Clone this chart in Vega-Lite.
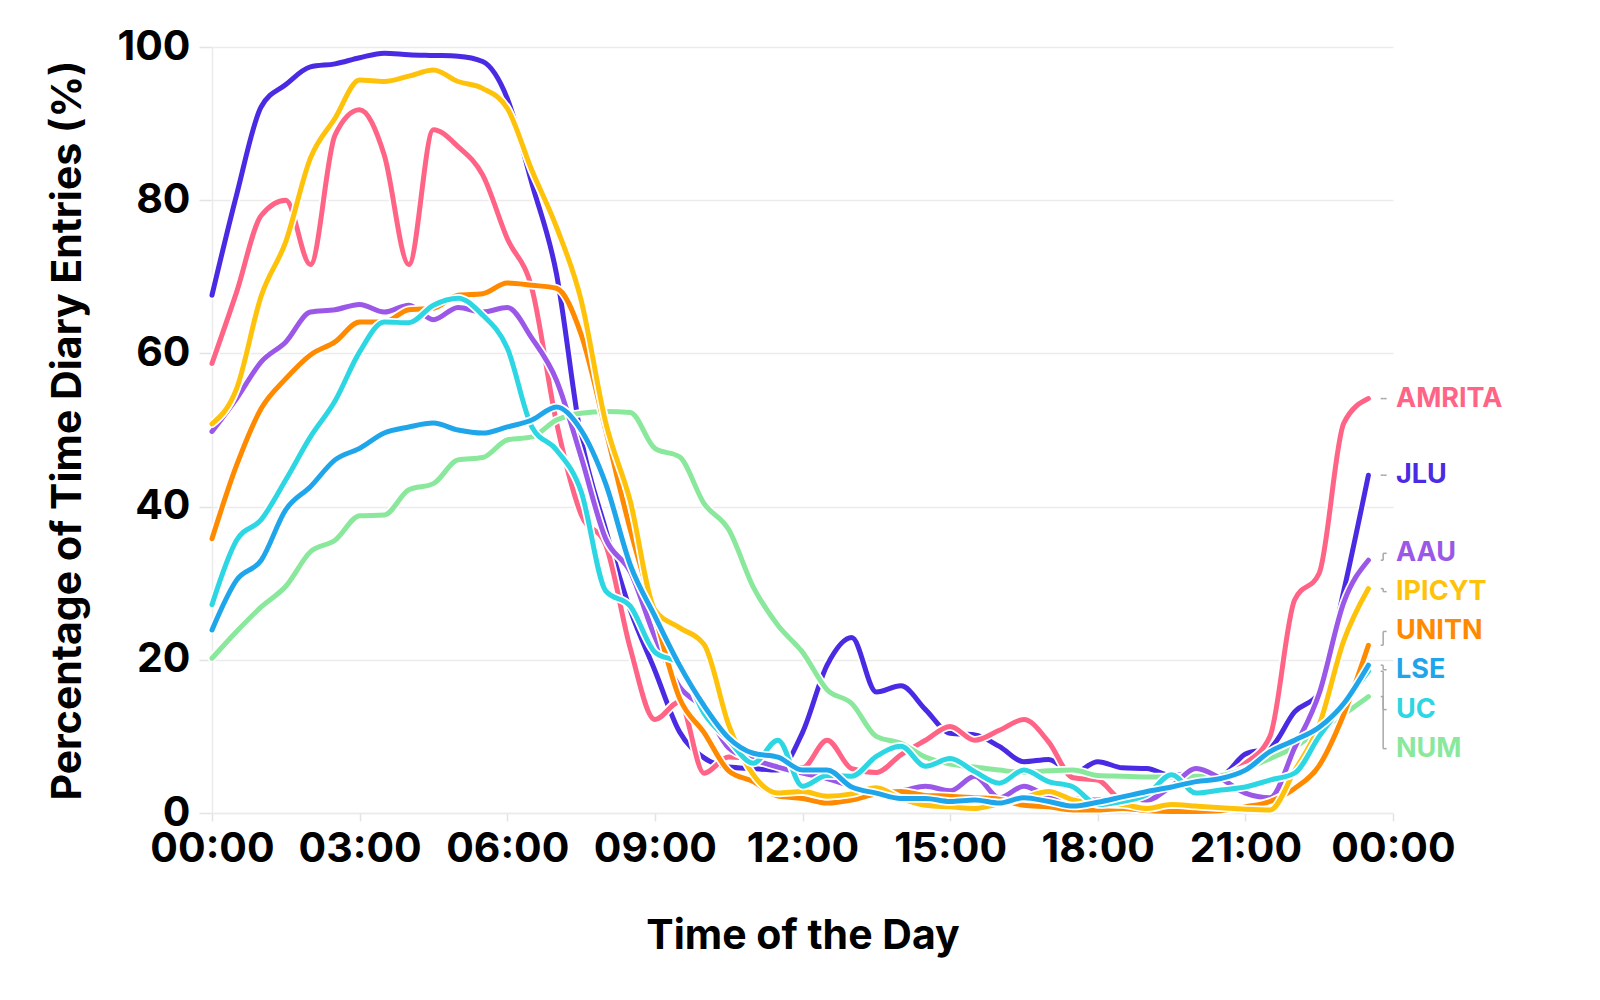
{
  "$schema": "https://vega.github.io/schema/vega-lite/v6.json",
  "width": 1181,
  "height": 766,
  "autosize": {"type": "none"},
  "padding": {"left": 212, "top": 47, "right": 207, "bottom": 187},
  "background": "white",
  "config": {
    "view": {"stroke": null},
    "font": "Inter",
    "axis": {
      "labelFont": "Inter", "labelFontWeight": "bold", "labelFontSize": 41, "labelColor": "#000000",
      "titleFont": "Inter", "titleFontWeight": "bold", "titleFontSize": 41, "titleColor": "#000000",
      "gridColor": "#ebebeb", "gridWidth": 1.5, "domainColor": "#ebebeb", "domainWidth": 1.5,
      "tickColor": "#e3e3e3", "tickWidth": 1.5
    },
    "axisX": {"grid": false, "tickSize": 8, "labelPadding": 8, "titlePadding": 47, "labelFlush": false},
    "axisY": {"grid": true, "tickSize": 13, "labelPadding": 9, "titlePadding": 28}
  },
  "datasets": {
    "series": [
      {"hour": 0, "AMRITA": 58.7, "JLU": 67.6, "AAU": 49.8, "IPICYT": 50.8, "UNITN": 35.8, "LSE": 23.9, "UC": 27.2, "NUM": 20.2},
      {"hour": 0.5, "AMRITA": 68, "JLU": 80.7, "AAU": 54.1, "IPICYT": 55.4, "UNITN": 45.4, "LSE": 30.4, "UC": 35.6, "NUM": 23.7},
      {"hour": 1, "AMRITA": 78, "JLU": 92.2, "AAU": 58.9, "IPICYT": 67.5, "UNITN": 52.8, "LSE": 33.0, "UC": 38.3, "NUM": 26.9},
      {"hour": 1.5, "AMRITA": 80, "JLU": 95.1, "AAU": 61.5, "IPICYT": 74.6, "UNITN": 56.7, "LSE": 39.6, "UC": 43.5, "NUM": 29.6},
      {"hour": 2, "AMRITA": 71.6, "JLU": 97.4, "AAU": 65.4, "IPICYT": 85.5, "UNITN": 59.8, "LSE": 42.6, "UC": 49.1, "NUM": 34.1},
      {"hour": 2.5, "AMRITA": 88.5, "JLU": 97.8, "AAU": 65.7, "IPICYT": 90.7, "UNITN": 61.5, "LSE": 46.1, "UC": 53.8, "NUM": 35.6},
      {"hour": 3, "AMRITA": 91.8, "JLU": 98.6, "AAU": 66.4, "IPICYT": 95.7, "UNITN": 64.1, "LSE": 47.6, "UC": 60.2, "NUM": 38.8},
      {"hour": 3.5, "AMRITA": 85.9, "JLU": 99.2, "AAU": 65.4, "IPICYT": 95.5, "UNITN": 64.1, "LSE": 49.6, "UC": 64.1, "NUM": 38.9},
      {"hour": 4, "AMRITA": 71.6, "JLU": 99.0, "AAU": 66.3, "IPICYT": 96.2, "UNITN": 65.7, "LSE": 50.4, "UC": 64.0, "NUM": 42.2},
      {"hour": 4.5, "AMRITA": 89.2, "JLU": 98.9, "AAU": 64.4, "IPICYT": 97.0, "UNITN": 65.9, "LSE": 50.9, "UC": 66.3, "NUM": 43.0},
      {"hour": 5, "AMRITA": 87, "JLU": 98.8, "AAU": 66.0, "IPICYT": 95.5, "UNITN": 67.6, "LSE": 50.0, "UC": 67.2, "NUM": 46.1},
      {"hour": 5.5, "AMRITA": 83.3, "JLU": 98.1, "AAU": 65.4, "IPICYT": 94.6, "UNITN": 67.8, "LSE": 49.6, "UC": 65.0, "NUM": 46.4},
      {"hour": 6, "AMRITA": 75.0, "JLU": 93.3, "AAU": 66.0, "IPICYT": 92.0, "UNITN": 69.2, "LSE": 50.4, "UC": 60.7, "NUM": 48.7},
      {"hour": 6.5, "AMRITA": 68.5, "JLU": 82.2, "AAU": 62.0, "IPICYT": 83.9, "UNITN": 68.9, "LSE": 51.3, "UC": 50.4, "NUM": 49.1},
      {"hour": 7, "AMRITA": 51, "JLU": 70.4, "AAU": 56.5, "IPICYT": 76.5, "UNITN": 68.5, "LSE": 53.0, "UC": 47.4, "NUM": 51.3},
      {"hour": 7.5, "AMRITA": 39, "JLU": 49, "AAU": 46.5, "IPICYT": 67, "UNITN": 62.5, "LSE": 50, "UC": 42, "NUM": 52.2},
      {"hour": 8, "AMRITA": 35, "JLU": 37, "AAU": 35.8, "IPICYT": 51, "UNITN": 50, "LSE": 43, "UC": 29, "NUM": 52.4},
      {"hour": 8.5, "AMRITA": 21.5, "JLU": 26.5, "AAU": 31.5, "IPICYT": 40.7, "UNITN": 37, "LSE": 32.4, "UC": 27, "NUM": 52.3},
      {"hour": 9, "AMRITA": 12.2, "JLU": 18.6, "AAU": 23, "IPICYT": 26.5, "UNITN": 25.8, "LSE": 25.7, "UC": 21, "NUM": 47.6},
      {"hour": 9.5, "AMRITA": 14.5, "JLU": 10.6, "AAU": 16.5, "IPICYT": 24.2, "UNITN": 15, "LSE": 19.3, "UC": 19.5, "NUM": 46.5},
      {"hour": 10, "AMRITA": 5.2, "JLU": 7.2, "AAU": 13.6, "IPICYT": 22, "UNITN": 10.5, "LSE": 14, "UC": 13, "NUM": 40.4},
      {"hour": 10.5, "AMRITA": 7.3, "JLU": 6.0, "AAU": 8.5, "IPICYT": 11.5, "UNITN": 5.5, "LSE": 9.8, "UC": 9.5, "NUM": 37},
      {"hour": 11, "AMRITA": 7, "JLU": 5.8, "AAU": 7, "IPICYT": 5, "UNITN": 4.1, "LSE": 7.8, "UC": 6.5, "NUM": 29.5},
      {"hour": 11.5, "AMRITA": 6.2, "JLU": 5.6, "AAU": 6, "IPICYT": 2.6, "UNITN": 2.2, "LSE": 7.3, "UC": 9.5, "NUM": 24.5},
      {"hour": 12, "AMRITA": 5.9, "JLU": 10.5, "AAU": 5.2, "IPICYT": 2.8, "UNITN": 1.9, "LSE": 5.6, "UC": 3.5, "NUM": 21},
      {"hour": 12.5, "AMRITA": 9.5, "JLU": 19.3, "AAU": 4.5, "IPICYT": 2.2, "UNITN": 1.3, "LSE": 5.6, "UC": 4.9, "NUM": 16.1},
      {"hour": 13, "AMRITA": 5.8, "JLU": 22.9, "AAU": 3.5, "IPICYT": 2.5, "UNITN": 1.7, "LSE": 3.4, "UC": 4.8, "NUM": 14.3},
      {"hour": 13.5, "AMRITA": 5.3, "JLU": 15.8, "AAU": 2.8, "IPICYT": 3.3, "UNITN": 2.5, "LSE": 2.6, "UC": 7.4, "NUM": 10},
      {"hour": 14, "AMRITA": 7.6, "JLU": 16.6, "AAU": 2.9, "IPICYT": 1.9, "UNITN": 2.8, "LSE": 1.9, "UC": 8.7, "NUM": 9.1},
      {"hour": 14.5, "AMRITA": 9.5, "JLU": 13.5, "AAU": 3.5, "IPICYT": 1.0, "UNITN": 2.3, "LSE": 1.9, "UC": 6.1, "NUM": 7.3},
      {"hour": 15, "AMRITA": 11.3, "JLU": 10.4, "AAU": 2.9, "IPICYT": 0.8, "UNITN": 2.2, "LSE": 1.5, "UC": 7.1, "NUM": 6.4},
      {"hour": 15.5, "AMRITA": 9.5, "JLU": 10.2, "AAU": 4.8, "IPICYT": 0.6, "UNITN": 2.0, "LSE": 1.7, "UC": 5.4, "NUM": 6.0},
      {"hour": 16, "AMRITA": 10.8, "JLU": 8.7, "AAU": 2.0, "IPICYT": 1.2, "UNITN": 1.8, "LSE": 1.3, "UC": 3.9, "NUM": 5.6},
      {"hour": 16.5, "AMRITA": 12.2, "JLU": 6.7, "AAU": 3.5, "IPICYT": 2.0, "UNITN": 1.0, "LSE": 2.0, "UC": 5.6, "NUM": 5.3},
      {"hour": 17, "AMRITA": 9.3, "JLU": 7.0, "AAU": 2.2, "IPICYT": 2.8, "UNITN": 0.8, "LSE": 1.5, "UC": 4.1, "NUM": 5.5},
      {"hour": 17.5, "AMRITA": 4.6, "JLU": 5.2, "AAU": 1.9, "IPICYT": 1.7, "UNITN": 0.4, "LSE": 0.9, "UC": 3.4, "NUM": 5.6},
      {"hour": 18, "AMRITA": 4.3, "JLU": 6.7, "AAU": 1.7, "IPICYT": 1.2, "UNITN": 0.4, "LSE": 1.4, "UC": 1.1, "NUM": 4.9},
      {"hour": 18.5, "AMRITA": 1.8, "JLU": 5.9, "AAU": 2.0, "IPICYT": 1.1, "UNITN": 0.6, "LSE": 2.1, "UC": 1.5, "NUM": 4.8},
      {"hour": 19, "AMRITA": 2.5, "JLU": 5.8, "AAU": 1.7, "IPICYT": 0.6, "UNITN": 0.3, "LSE": 2.8, "UC": 2.4, "NUM": 4.7},
      {"hour": 19.5, "AMRITA": 3.5, "JLU": 4.9, "AAU": 3.5, "IPICYT": 1.1, "UNITN": 0.2, "LSE": 3.4, "UC": 5.0, "NUM": 4.7},
      {"hour": 20, "AMRITA": 5.0, "JLU": 5.3, "AAU": 5.8, "IPICYT": 0.9, "UNITN": 0.2, "LSE": 4.1, "UC": 2.6, "NUM": 4.8},
      {"hour": 20.5, "AMRITA": 4.8, "JLU": 4.9, "AAU": 4.5, "IPICYT": 0.7, "UNITN": 0.3, "LSE": 4.5, "UC": 3.0, "NUM": 4.9},
      {"hour": 21, "AMRITA": 6.5, "JLU": 7.7, "AAU": 2.6, "IPICYT": 0.5, "UNITN": 0.8, "LSE": 5.6, "UC": 3.4, "NUM": 5.8},
      {"hour": 21.5, "AMRITA": 10, "JLU": 8.5, "AAU": 2.0, "IPICYT": 0.4, "UNITN": 1.5, "LSE": 8.0, "UC": 4.3, "NUM": 7.1},
      {"hour": 22, "AMRITA": 27.8, "JLU": 13.2, "AAU": 8.5, "IPICYT": 5.5, "UNITN": 3.2, "LSE": 9.5, "UC": 5.2, "NUM": 8.6},
      {"hour": 22.5, "AMRITA": 31.3, "JLU": 15.7, "AAU": 15.6, "IPICYT": 11.5, "UNITN": 6.2, "LSE": 11.2, "UC": 10, "NUM": 10.8},
      {"hour": 23, "AMRITA": 50.9, "JLU": 29, "AAU": 27.5, "IPICYT": 22.5, "UNITN": 12.9, "LSE": 14.3, "UC": 14.3, "NUM": 12.9},
      {"hour": 23.5, "AMRITA": 54.1, "JLU": 44.1, "AAU": 33.0, "IPICYT": 29.3, "UNITN": 21.9, "LSE": 19.3, "UC": 18.5, "NUM": 15.2}
    ],
    "labels": [
      {"uni": "AMRITA", "end": 54.1, "pos": 54.1},
      {"uni": "JLU", "end": 44.1, "pos": 44.1},
      {"uni": "AAU", "end": 33.0, "pos": 33.9},
      {"uni": "IPICYT", "end": 29.3, "pos": 28.9},
      {"uni": "UNITN", "end": 21.9, "pos": 23.7},
      {"uni": "LSE", "end": 19.3, "pos": 18.7},
      {"uni": "UC", "end": 18.5, "pos": 13.5},
      {"uni": "NUM", "end": 15.2, "pos": 8.4}
    ]
  },
  "data": {"name": "series"},
  "layer": [
    {
      "encoding": {
        "x": {"field": "hour", "type": "quantitative", "title": "Time of the Day", "scale": {"domain": [0, 24], "nice": false},
              "axis": {"values": [0, 3, 6, 9, 12, 15, 18, 21, 24], "labelExpr": "datum.value == 24 ? '00:00' : (datum.value < 10 ? '0' : '') + datum.value + ':00'"}},
        "y": {"field": "JLU", "type": "quantitative", "title": "Percentage of Time Diary Entries (%)", "scale": {"domain": [0, 100], "nice": false},
              "axis": {"values": [0, 20, 40, 60, 80, 100]}}
      },
      "layer": [
        {"mark": {"type": "line", "interpolate": "monotone", "stroke": "white", "strokeWidth": 8.5, "strokeCap": "round", "strokeJoin": "round"}},
        {"mark": {"type": "line", "interpolate": "monotone", "strokeWidth": 5, "strokeCap": "round", "strokeJoin": "round"},
         "encoding": {"color": {"datum": "JLU", "scale": {"domain": ["AMRITA", "JLU", "AAU", "IPICYT", "UNITN", "LSE", "UC", "NUM"], "range": ["#ff6486", "#4a2ae3", "#9b57e8", "#ffc20a", "#ff8a00", "#1fa6ea", "#2cd6e2", "#8ae89c"]}, "legend": null}}}
      ]
    },
    {
      "encoding": {
        "x": {"field": "hour", "type": "quantitative", "title": "Time of the Day"},
        "y": {"field": "AMRITA", "type": "quantitative", "title": "Percentage of Time Diary Entries (%)"}
      },
      "layer": [
        {"mark": {"type": "line", "interpolate": "monotone", "stroke": "white", "strokeWidth": 8.5, "strokeCap": "round", "strokeJoin": "round"}},
        {"mark": {"type": "line", "interpolate": "monotone", "strokeWidth": 5, "strokeCap": "round", "strokeJoin": "round"},
         "encoding": {"color": {"datum": "AMRITA", "legend": null}}}
      ]
    },
    {
      "encoding": {
        "x": {"field": "hour", "type": "quantitative", "title": "Time of the Day"},
        "y": {"field": "NUM", "type": "quantitative", "title": "Percentage of Time Diary Entries (%)"}
      },
      "layer": [
        {"mark": {"type": "line", "interpolate": "monotone", "stroke": "white", "strokeWidth": 8.5, "strokeCap": "round", "strokeJoin": "round"}},
        {"mark": {"type": "line", "interpolate": "monotone", "strokeWidth": 5, "strokeCap": "round", "strokeJoin": "round"},
         "encoding": {"color": {"datum": "NUM", "legend": null}}}
      ]
    },
    {
      "encoding": {
        "x": {"field": "hour", "type": "quantitative", "title": "Time of the Day"},
        "y": {"field": "AAU", "type": "quantitative", "title": "Percentage of Time Diary Entries (%)"}
      },
      "layer": [
        {"mark": {"type": "line", "interpolate": "monotone", "stroke": "white", "strokeWidth": 8.5, "strokeCap": "round", "strokeJoin": "round"}},
        {"mark": {"type": "line", "interpolate": "monotone", "strokeWidth": 5, "strokeCap": "round", "strokeJoin": "round"},
         "encoding": {"color": {"datum": "AAU", "legend": null}}}
      ]
    },
    {
      "encoding": {
        "x": {"field": "hour", "type": "quantitative", "title": "Time of the Day"},
        "y": {"field": "UNITN", "type": "quantitative", "title": "Percentage of Time Diary Entries (%)"}
      },
      "layer": [
        {"mark": {"type": "line", "interpolate": "monotone", "stroke": "white", "strokeWidth": 8.5, "strokeCap": "round", "strokeJoin": "round"}},
        {"mark": {"type": "line", "interpolate": "monotone", "strokeWidth": 5, "strokeCap": "round", "strokeJoin": "round"},
         "encoding": {"color": {"datum": "UNITN", "legend": null}}}
      ]
    },
    {
      "encoding": {
        "x": {"field": "hour", "type": "quantitative", "title": "Time of the Day"},
        "y": {"field": "IPICYT", "type": "quantitative", "title": "Percentage of Time Diary Entries (%)"}
      },
      "layer": [
        {"mark": {"type": "line", "interpolate": "monotone", "stroke": "white", "strokeWidth": 8.5, "strokeCap": "round", "strokeJoin": "round"}},
        {"mark": {"type": "line", "interpolate": "monotone", "strokeWidth": 5, "strokeCap": "round", "strokeJoin": "round"},
         "encoding": {"color": {"datum": "IPICYT", "legend": null}}}
      ]
    },
    {
      "encoding": {
        "x": {"field": "hour", "type": "quantitative", "title": "Time of the Day"},
        "y": {"field": "UC", "type": "quantitative", "title": "Percentage of Time Diary Entries (%)"}
      },
      "layer": [
        {"mark": {"type": "line", "interpolate": "monotone", "stroke": "white", "strokeWidth": 8.5, "strokeCap": "round", "strokeJoin": "round"}},
        {"mark": {"type": "line", "interpolate": "monotone", "strokeWidth": 5, "strokeCap": "round", "strokeJoin": "round"},
         "encoding": {"color": {"datum": "UC", "legend": null}}}
      ]
    },
    {
      "encoding": {
        "x": {"field": "hour", "type": "quantitative", "title": "Time of the Day"},
        "y": {"field": "LSE", "type": "quantitative", "title": "Percentage of Time Diary Entries (%)"}
      },
      "layer": [
        {"mark": {"type": "line", "interpolate": "monotone", "stroke": "white", "strokeWidth": 8.5, "strokeCap": "round", "strokeJoin": "round"}},
        {"mark": {"type": "line", "interpolate": "monotone", "strokeWidth": 5, "strokeCap": "round", "strokeJoin": "round"},
         "encoding": {"color": {"datum": "LSE", "legend": null}}}
      ]
    },
    {
      "data": {"name": "labels"},
      "mark": {"type": "rule", "color": "#a8a8a8", "strokeWidth": 1.5},
      "encoding": {
        "x": {"datum": 23.75, "type": "quantitative"},
        "x2": {"datum": 23.8},
        "y": {"field": "end", "type": "quantitative", "title": "Percentage of Time Diary Entries (%)"}
      }
    },
    {
      "data": {"name": "labels"},
      "mark": {"type": "rule", "color": "#a8a8a8", "strokeWidth": 1.5},
      "encoding": {
        "x": {"datum": 23.8, "type": "quantitative"},
        "y": {"field": "end", "type": "quantitative", "title": "Percentage of Time Diary Entries (%)"},
        "y2": {"field": "pos"}
      }
    },
    {
      "data": {"name": "labels"},
      "mark": {"type": "rule", "color": "#a8a8a8", "strokeWidth": 1.5},
      "encoding": {
        "x": {"datum": 23.8, "type": "quantitative"},
        "x2": {"datum": 23.87},
        "y": {"field": "pos", "type": "quantitative", "title": "Percentage of Time Diary Entries (%)"}
      }
    },
    {
      "data": {"name": "labels"},
      "mark": {"type": "text", "align": "left", "baseline": "middle", "dx": 3, "font": "Inter", "fontWeight": "bold", "fontSize": 27},
      "encoding": {
        "x": {"datum": 24, "type": "quantitative"},
        "y": {"field": "pos", "type": "quantitative", "title": "Percentage of Time Diary Entries (%)"},
        "text": {"field": "uni"},
        "color": {"field": "uni", "legend": null}
      }
    }
  ]
}
